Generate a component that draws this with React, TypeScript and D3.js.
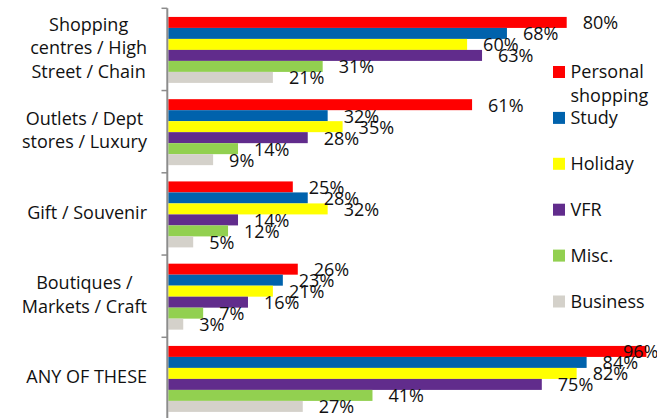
import React, { useEffect, useRef } from 'react';
import * as d3 from 'd3';

const categories: string[][] = [
  ['Shopping', 'centres / High', 'Street / Chain'],
  ['Outlets / Dept', 'stores / Luxury'],
  ['Gift / Souvenir'],
  ['Boutiques /', 'Markets / Craft'],
  ['ANY OF THESE'],
];
const seriesNames = ['Personal shopping', 'Study', 'Holiday', 'VFR', 'Misc.', 'Business'];
const legendLines: string[][] = [['Personal', 'shopping'], ['Study'], ['Holiday'], ['VFR'], ['Misc.'], ['Business']];
const colors = ['#FF0000', '#0062AC', '#FFFF00', '#612C8C', '#92D050', '#D4D1CA'];

const personalShopping = [80, 61, 25, 26, 96];
const study = [68, 32, 28, 23, 84];
const holiday = [60, 35, 32, 21, 82];
const vfr = [63, 28, 14, 16, 75];
const misc = [31, 14, 12, 7, 41];
const business = [21, 9, 5, 3, 27];
const seriesValues = [personalShopping, study, holiday, vfr, misc, business];

const W = 657;
const H = 418;
const FONT = "'Open Sans', sans-serif";

export default function App() {
  const ref = useRef<SVGSVGElement>(null);

  useEffect(() => {
    const svg = d3.select(ref.current);
    svg.selectAll('*').remove();

    const catIdx = categories.map((_, i) => String(i));
    const y = d3.scaleBand().domain(catIdx).range([8.3, 8.3 + 82.25 * 5]).padding(0);
    const inner = d3
      .scaleBand()
      .domain(seriesNames)
      .range([0, y.bandwidth()])
      .paddingInner(0)
      .paddingOuter(0.74)
      .align(0.53);
    const x = d3.scaleLinear().domain([0, 100]).range([168.3, 666.3]);

    // bars
    const bars = svg.append('g');
    seriesNames.forEach((s, si) => {
      bars
        .selectAll(null)
        .data(seriesValues[si])
        .enter()
        .append('rect')
        .attr('x', x(0))
        .attr('y', (_, ci) => (y(String(ci)) as number) + (inner(s) as number))
        .attr('width', (d) => x(d) - x(0))
        .attr('height', inner.bandwidth())
        .attr('fill', colors[si]);
    });

    // axis
    const axis = svg.append('g');
    axis
      .append('line')
      .attr('x1', 167.3)
      .attr('x2', 167.3)
      .attr('y1', y.range()[0])
      .attr('y2', y.range()[1])
      .attr('stroke', '#8c8c8c')
      .attr('stroke-width', 2);
    const tickYs = catIdx.map((c) => y(c) as number).concat([y.range()[1]]);
    axis
      .selectAll(null)
      .data(tickYs)
      .enter()
      .append('line')
      .attr('x1', 161.5)
      .attr('x2', 167.3)
      .attr('y1', (d) => d)
      .attr('y2', (d) => d)
      .attr('stroke', '#8c8c8c')
      .attr('stroke-width', 1.5);

    // value labels (kept inside the chart area like the original)
    const labels = svg.append('g').attr('font-family', FONT).attr('font-size', 18).attr('fill', '#111');
    seriesNames.forEach((s, si) => {
      labels
        .selectAll(null)
        .data(seriesValues[si])
        .enter()
        .append('text')
        .attr('x', (d) => Math.min(x(d) + 16, 623))
        .attr('y', (_, ci) => (y(String(ci)) as number) + (inner(s) as number) + inner.bandwidth() / 2 + 7)
        .text((d) => `${d}%`);
    });

    // category labels
    const cat = svg.append('g').attr('font-family', FONT).attr('font-size', 18).attr('fill', '#111');
    categories.forEach((lines, ci) => {
      const g = cat.append('g');
      const center = (y(String(ci)) as number) + y.bandwidth() / 2;
      const texts = lines.map((ln, li) =>
        g
          .append('text')
          .attr('text-anchor', 'middle')
          .attr('y', center + (li - (lines.length - 1) / 2) * 23.4 + 5)
          .text(ln)
      );
      const maxW = d3.max(texts, (t) => (t.node() as SVGTextElement).getComputedTextLength()) || 0;
      texts.forEach((t) => t.attr('x', 147 - maxW / 2));
    });

    // legend
    const leg = svg.append('g').attr('font-family', FONT).attr('font-size', 18).attr('fill', '#111');
    const ly = d3.scaleLinear().domain([0, 5]).range([66, 295.5]);
    legendLines.forEach((lines, i) => {
      const top = ly(i);
      leg.append('rect').attr('x', 553).attr('y', top).attr('width', 12).attr('height', 12).attr('fill', colors[i]);
      lines.forEach((ln, li) => {
        leg
          .append('text')
          .attr('x', 570.5)
          .attr('y', top + 12 + li * 24)
          .text(ln);
      });
    });
  }, []);

  return (
    <svg
      ref={ref}
      width={W}
      height={H}
      style={{ position: 'absolute', left: 0, top: 0, background: '#fff' }}
    />
  );
}
